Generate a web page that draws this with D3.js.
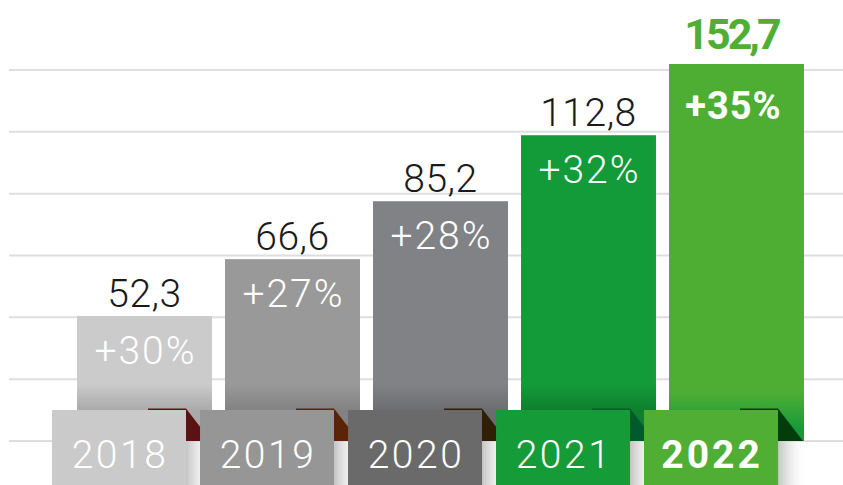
<!DOCTYPE html>
<html>
<head>
<meta charset="utf-8">
<script src="https://cdn.jsdelivr.net/npm/d3@7"></script>
<style>
  html, body { margin: 0; padding: 0; background: #ffffff; }
  svg { display: block; }
  text { font-family: Roboto, "Noto Sans", sans-serif; }
</style>
</head>
<body>
<svg id="chart" width="843" height="485"></svg>
<script>
// ---- data ----
const years = ["2018", "2019", "2020", "2021", "2022"];
const values = [52.3, 66.6, 85.2, 112.8, 152.7];
const growth = ["+30%", "+27%", "+28%", "+32%", "+35%"];
const highlightYear = "2022";

// ---- styles ----
const barColors   = ["#cbcbcb", "#999999", "#808285", "#149b39", "#4eae34"];
const barDark     = ["#a9a9a9", "#828282", "#6a6c6f", "#0e7f2e", "#15993a"];
const labelColors = ["#cacaca", "#969696", "#6a6a6a", "#159b38", "#4fae33"];
const foldColors  = ["#5c1212", "#5a2408", "#2f1f05", "#005a2d", "#033d0b"];

const W = 843, H = 485;
const svg = d3.select("#chart");
const defs = svg.append("defs");

const locale = d3.formatLocale({decimal: ",", thousands: " ", grouping: [3], currency: ["", ""]});
const fmt = locale.format(".1f");

const baseY = 441, ribbonTop = 410, gridTop = 70;

const x = d3.scaleBand().domain(years).range([70.5, 810.5]).paddingInner(0.088).paddingOuter(0.044);
const y = d3.scaleLog().domain([d3.min(values), d3.max(values)]).range([316, 64]);

// gridlines (decorative, evenly spaced)
const g = d3.scaleLinear().domain([0, 6]).range([gridTop, baseY]);
svg.append("g").selectAll("line").data(d3.range(7)).join("line")
  .attr("x1", 9).attr("x2", W)
  .attr("y1", d => g(d)).attr("y2", d => g(d))
  .attr("stroke", "#dedede").attr("stroke-width", 2);

const data = years.map((yr, i) => ({yr, i, v: values[i], gr: growth[i], hi: yr === highlightYear}));

// bar gradients
data.forEach(d => {
  const lg = defs.append("linearGradient").attr("id", "bg" + d.i)
    .attr("gradientUnits", "userSpaceOnUse").attr("x1", 0).attr("x2", 0)
    .attr("y1", d.hi ? 392 : 384).attr("y2", d.hi ? 430 : 411);
  lg.append("stop").attr("offset", 0).attr("stop-color", barColors[d.i]);
  lg.append("stop").attr("offset", 1).attr("stop-color", barDark[d.i]);
});
const sg = defs.append("linearGradient").attr("id", "shadow").attr("x1", 0).attr("x2", 1).attr("y1", 0).attr("y2", 0);
sg.append("stop").attr("offset", 0).attr("stop-color", "#c4c4c4");
sg.append("stop").attr("offset", 1).attr("stop-color", "#ffffff").attr("stop-opacity", 0);
const sgv = defs.append("linearGradient").attr("id", "shadowv").attr("x1", 0).attr("x2", 0).attr("y1", 0).attr("y2", 1);
sgv.append("stop").attr("offset", 0).attr("stop-color", "#ffffff").attr("stop-opacity", 0);
sgv.append("stop").attr("offset", 1).attr("stop-color", "#ffffff").attr("stop-opacity", 0.6);

// bars
svg.append("g").selectAll("rect").data(data).join("rect")
  .attr("x", d => x(d.yr)).attr("width", x.bandwidth())
  .attr("y", d => y(d.v)).attr("height", d => baseY - y(d.v))
  .attr("fill", d => `url(#bg${d.i})`);

const labelShift = 25, labelW = 134;
const lx = d => x(d.yr) - labelShift;

// folds + shadows + labels (drawn per item so next label overlaps previous fold)
data.forEach(d => {
  const r = lx(d) + labelW;
  svg.append("path")
    .attr("d", `M${r - 38},${ribbonTop - 1.5}L${r},${ribbonTop - 1.5}L${r + labelShift},${baseY}L${r - 38},${baseY}Z`)
    .attr("fill", foldColors[d.i]);
  svg.append("rect").attr("x", r).attr("y", baseY).attr("width", 30).attr("height", H - baseY)
    .attr("fill", "url(#shadow)");
  svg.append("rect").attr("x", lx(d)).attr("y", ribbonTop).attr("width", labelW).attr("height", H - ribbonTop)
    .attr("fill", labelColors[d.i]);
  svg.append("text")
    .attr("x", lx(d) + labelW / 2 + 1).attr("y", 468)
    .attr("text-anchor", "middle")
    .attr("font-size", d.hi ? 39 : 39)
    .attr("font-weight", d.hi ? 700 : 300)
    .attr("letter-spacing", d.hi ? 3 : 2.5)
    .attr("fill", "#ffffff")
    .text(d.yr);
});

// value labels above bars
svg.append("g").selectAll("text").data(data).join("text")
  .attr("x", d => x(d.yr) + x.bandwidth() / 2 - (d.hi ? 5 : 0))
  .attr("y", d => y(d.v) - (d.hi ? 15 : 9))
  .attr("text-anchor", "middle")
  .attr("font-size", d => d.hi ? 43 : 39)
  .attr("font-weight", d => d.hi ? 700 : 300)
  .attr("letter-spacing", d => d.hi ? -3 : 0.5)
  .attr("fill", d => d.hi ? labelColors[d.i] : "#1a1a1a")
  .text(d => fmt(d.v));

// growth labels inside bars
svg.append("g").selectAll("text").data(data).join("text")
  .attr("x", d => x(d.yr) + x.bandwidth() / 2 + (d.hi ? -3 : 1))
  .attr("y", d => y(d.v) + (d.hi ? 55 : 48))
  .attr("text-anchor", "middle")
  .attr("font-size", d => d.hi ? 38 : 39)
  .attr("font-weight", d => d.hi ? 700 : 300)
  .attr("letter-spacing", d => d.hi ? 1 : 2)
  .attr("fill", "#ffffff")
  .text(d => d.gr);
</script>
</body>
</html>
